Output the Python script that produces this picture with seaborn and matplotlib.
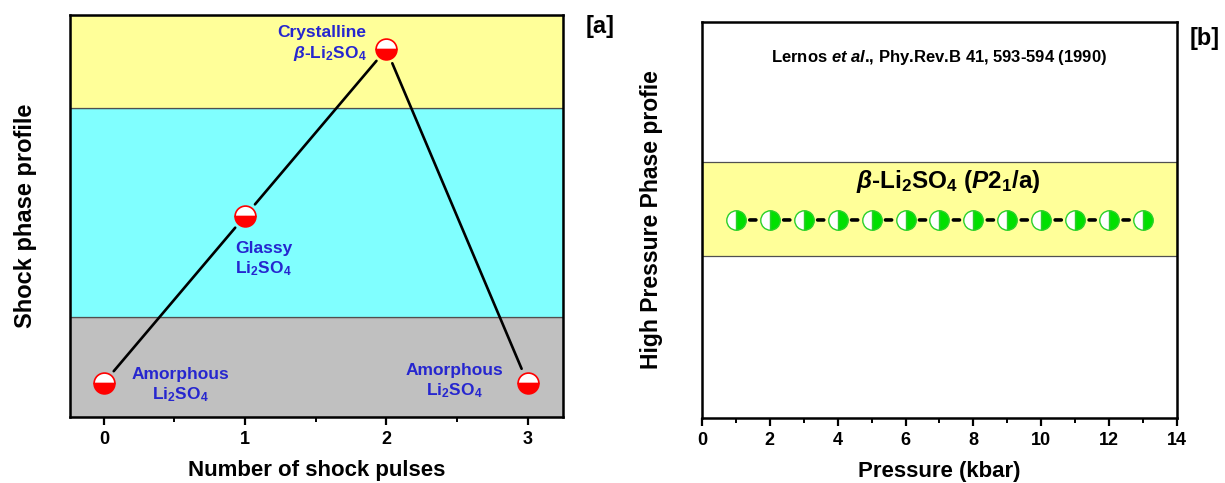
import numpy as np
import pandas as pd
import matplotlib
matplotlib.use('Agg')
import matplotlib.pyplot as plt
from matplotlib.ticker import MultipleLocator
import seaborn as sns

# panel [a] : shock pulses vs phase
pulses = [0, 1, 2, 3]
phase_level = [0.34, 2.0, 3.66, 0.34]
phase_names = ['Amorphous\nLi$_2$SO$_4$',
               'Glassy\nLi$_2$SO$_4$',
               'Crystalline\n$\\mathit{\\beta}$-Li$_2$SO$_4$',
               'Amorphous\nLi$_2$SO$_4$']
band_edges = [0.0, 1.0, 3.07, 4.0]
band_colors = ['#c0c0c0', '#80ffff', '#ffff99']

# panel [b] : high pressure profile
pressure_kbar = [1, 2, 3, 4, 5, 6, 7, 8, 9, 10, 11, 12, 13]
hp_level = [0.5, 0.5, 0.5, 0.5, 0.5, 0.5, 0.5, 0.5, 0.5, 0.5, 0.5, 0.5, 0.5]
hp_band = [0.41, 0.646]
hp_phase = '$\\mathit{\\beta}$-Li$_2$SO$_4$ ($\\mathit{P}$2$_1$/a)'
reference = 'Lernos $\\mathit{et}$ $\\mathit{al}$., Phy.Rev.B 41, 593-594 (1990)'

# label placement (data coords) for panel a
lab_x = [0.54, 0.93, 1.86, 2.48]
lab_y = [0.31, 1.57, 3.71, 0.35]
lab_ha = ['center', 'left', 'right', 'center']

sns.set_theme(style='ticks')
plt.rcParams['font.family'] = ['Liberation Sans', 'DejaVu Sans']
plt.rcParams['font.weight'] = 'bold'
plt.rcParams['axes.labelweight'] = 'bold'
plt.rcParams['text.color'] = 'black'
plt.rcParams['axes.labelcolor'] = 'black'
plt.rcParams['xtick.color'] = 'black'
plt.rcParams['ytick.color'] = 'black'
plt.rcParams['mathtext.fontset'] = 'custom'
plt.rcParams['mathtext.default'] = 'regular'
plt.rcParams['mathtext.it'] = 'Liberation Sans:italic:bold'
plt.rcParams['mathtext.rm'] = 'Liberation Sans:bold'
plt.rcParams['mathtext.bf'] = 'Liberation Sans:bold'

fig = plt.figure(figsize=(12.25, 4.83), dpi=100)
ax_a = fig.add_axes([0.0571, 0.1366, 0.4024, 0.8323])
ax_b = fig.add_axes([0.573, 0.1346, 0.3878, 0.820])

# ---- panel a
for i in range(len(band_colors)):
    ax_a.axhspan(band_edges[i], band_edges[i + 1], facecolor=band_colors[i],
                 edgecolor='#505050', lw=0.9, zorder=0)

for i in range(len(pulses) - 1):
    ax_a.annotate('', xy=(pulses[i + 1], phase_level[i + 1]), xytext=(pulses[i], phase_level[i]),
                  arrowprops=dict(arrowstyle='-', color='black', lw=1.9,
                                  shrinkA=11, shrinkB=11), zorder=2)

df_a = pd.DataFrame({'pulses': pulses, 'level': phase_level})
sns.lineplot(data=df_a, x='pulses', y='level', ax=ax_a, linestyle='none',
             marker='o', markersize=15, fillstyle='bottom', color='red',
             markerfacecolor='red', markerfacecoloralt='white',
             markeredgecolor='red', markeredgewidth=1.2, zorder=3)

for i in range(len(phase_names)):
    ax_a.text(lab_x[i], lab_y[i], phase_names[i], ha=lab_ha[i], va='center',
              multialignment=lab_ha[i], color='#2626cf', fontsize=12.5,
              fontweight='bold', linespacing=1.25, zorder=4)

ax_a.set_xlim(-0.24, 3.25)
ax_a.set_ylim(band_edges[0], band_edges[-1])
ax_a.xaxis.set_major_locator(MultipleLocator(1))
ax_a.xaxis.set_minor_locator(MultipleLocator(0.5))
ax_a.set_yticks([])
ax_a.set_xlabel('Number of shock pulses', fontsize=16, fontweight='bold', labelpad=9)
ax_a.set_ylabel('Shock phase profile', fontsize=17, fontweight='bold')
ax_a.yaxis.set_label_coords(-0.067, 0.5)

# ---- panel b
ax_b.axhspan(hp_band[0], hp_band[1], facecolor='#ffff99', edgecolor='#505050',
             lw=0.9, zorder=0)
for i in range(len(pressure_kbar) - 1):
    ax_b.annotate('', xy=(pressure_kbar[i + 1], hp_level[i + 1]),
                  xytext=(pressure_kbar[i], hp_level[i]),
                  arrowprops=dict(arrowstyle='-', color='black', lw=2.6,
                                  shrinkA=10, shrinkB=10), zorder=2)
df_b = pd.DataFrame({'pressure': pressure_kbar, 'level': hp_level})
sns.lineplot(data=df_b, x='pressure', y='level', ax=ax_b, linestyle='none',
             marker='o', markersize=14, fillstyle='right', color='#00e000',
             markerfacecolor='#00e000', markerfacecoloralt='white',
             markeredgecolor='#2ad02a', markeredgewidth=1.0, zorder=3)

ax_b.text(7.25, 0.598, hp_phase, ha='center', va='center', fontsize=17.5,
          fontweight='bold', zorder=4)
ax_b.text(7.0, 0.91, reference, ha='center', va='center', fontsize=12,
          fontweight='bold')

ax_b.set_xlim(0, 14)
ax_b.set_ylim(0, 1)
ax_b.xaxis.set_major_locator(MultipleLocator(2))
ax_b.xaxis.set_minor_locator(MultipleLocator(1))
ax_b.set_yticks([])
ax_b.set_xlabel('Pressure (kbar)', fontsize=16, fontweight='bold', labelpad=9)
ax_b.set_ylabel('High Pressure Phase profie', fontsize=16.5, fontweight='bold')
ax_b.yaxis.set_label_coords(-0.082, 0.5)

for ax in [ax_a, ax_b]:
    for s in ax.spines.values():
        s.set_linewidth(1.8)
        s.set_color('black')
    ax.tick_params(axis='x', which='major', direction='out', length=6, width=1.6,
                   labelsize=13, pad=4, colors='black')
    ax.tick_params(axis='x', which='minor', direction='out', length=3.5, width=1.4)
    ax.set_facecolor('white')
    for lab in ax.get_xticklabels():
        lab.set_fontweight('bold')

fig.text(600 / 1225, 1 - 27 / 483, '[a]', ha='center', va='center', fontsize=17, fontweight='bold')
fig.text(1205 / 1225, 1 - 38 / 483, '[b]', ha='center', va='center', fontsize=17, fontweight='bold')

fig.savefig('out.png', dpi=100, facecolor='white')
